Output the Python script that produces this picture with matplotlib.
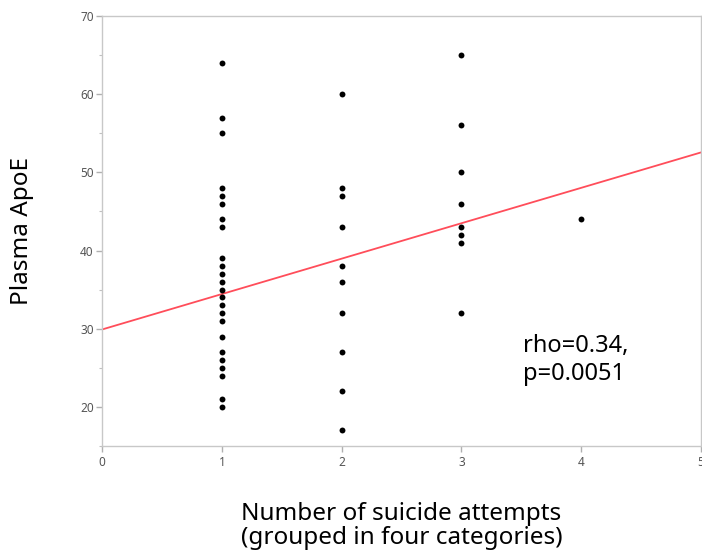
import numpy as np
import matplotlib
matplotlib.use("Agg")
import matplotlib.pyplot as plt
from matplotlib.ticker import MultipleLocator

plt.rcParams['font.family'] = ['Noto Sans', 'DejaVu Sans']

# ApoE values, per category of suicide attempts
cat1 = [64, 57, 55, 48, 47, 46, 44, 43, 39, 38, 37, 36, 35, 34, 33, 32, 31,
        29, 27, 26, 25, 24, 21, 20]
cat2 = [60, 48, 47, 43, 38, 36, 32, 27, 22, 17]
cat3 = [65, 56, 50, 46, 43, 42, 41, 32]
cat4 = [44]
groups = [cat1, cat2, cat3, cat4]

# fitted line as drawn in the figure
intercept = 29.9
slope = 4.53

x_ticks = [0, 1, 2, 3, 4, 5]
y_ticks = [20, 30, 40, 50, 60, 70]

fig = plt.figure(figsize=(7.02, 5.53), dpi=100)
ax = fig.add_axes([0.1453, 0.1935, 0.8533, 0.7776])

for i, vals in enumerate(groups):
    ax.scatter(np.full(len(vals), i + 1), vals, s=18, color='black', zorder=3, linewidths=0)

xl = np.array([0, 5])
ax.plot(xl, intercept + slope * xl, color='#ff4d5a', lw=1.3, zorder=2)

ax.set_xlim(0, 5)
ax.set_ylim(15, 70)
ax.set_xticks(x_ticks)
ax.set_yticks(y_ticks)
ax.yaxis.set_minor_locator(MultipleLocator(5))

for s in ax.spines.values():
    s.set_color('#c8c8c8')
    s.set_linewidth(1.0)
ax.tick_params(axis='both', which='major', color='#b0b0b0', length=4, width=1,
               labelcolor='#555555', labelsize=8.5, pad=2)
ax.tick_params(axis='y', which='minor', color='#c0c0c0', length=2.5, width=0.8)
ax.tick_params(axis='x', pad=3)

ax.set_ylabel('Plasma ApoE', fontsize=17.5, labelpad=33)
ax.set_xlabel('Number of suicide attempts\n(grouped in four categories)',
              fontsize=17.5, labelpad=24, linespacing=1.0)

ax.text(3.51, 26.0, 'rho=0.34,\np=0.0051', fontsize=17, va='center',
        ha='left', linespacing=1.25)

fig.savefig('out.png', dpi=100)
